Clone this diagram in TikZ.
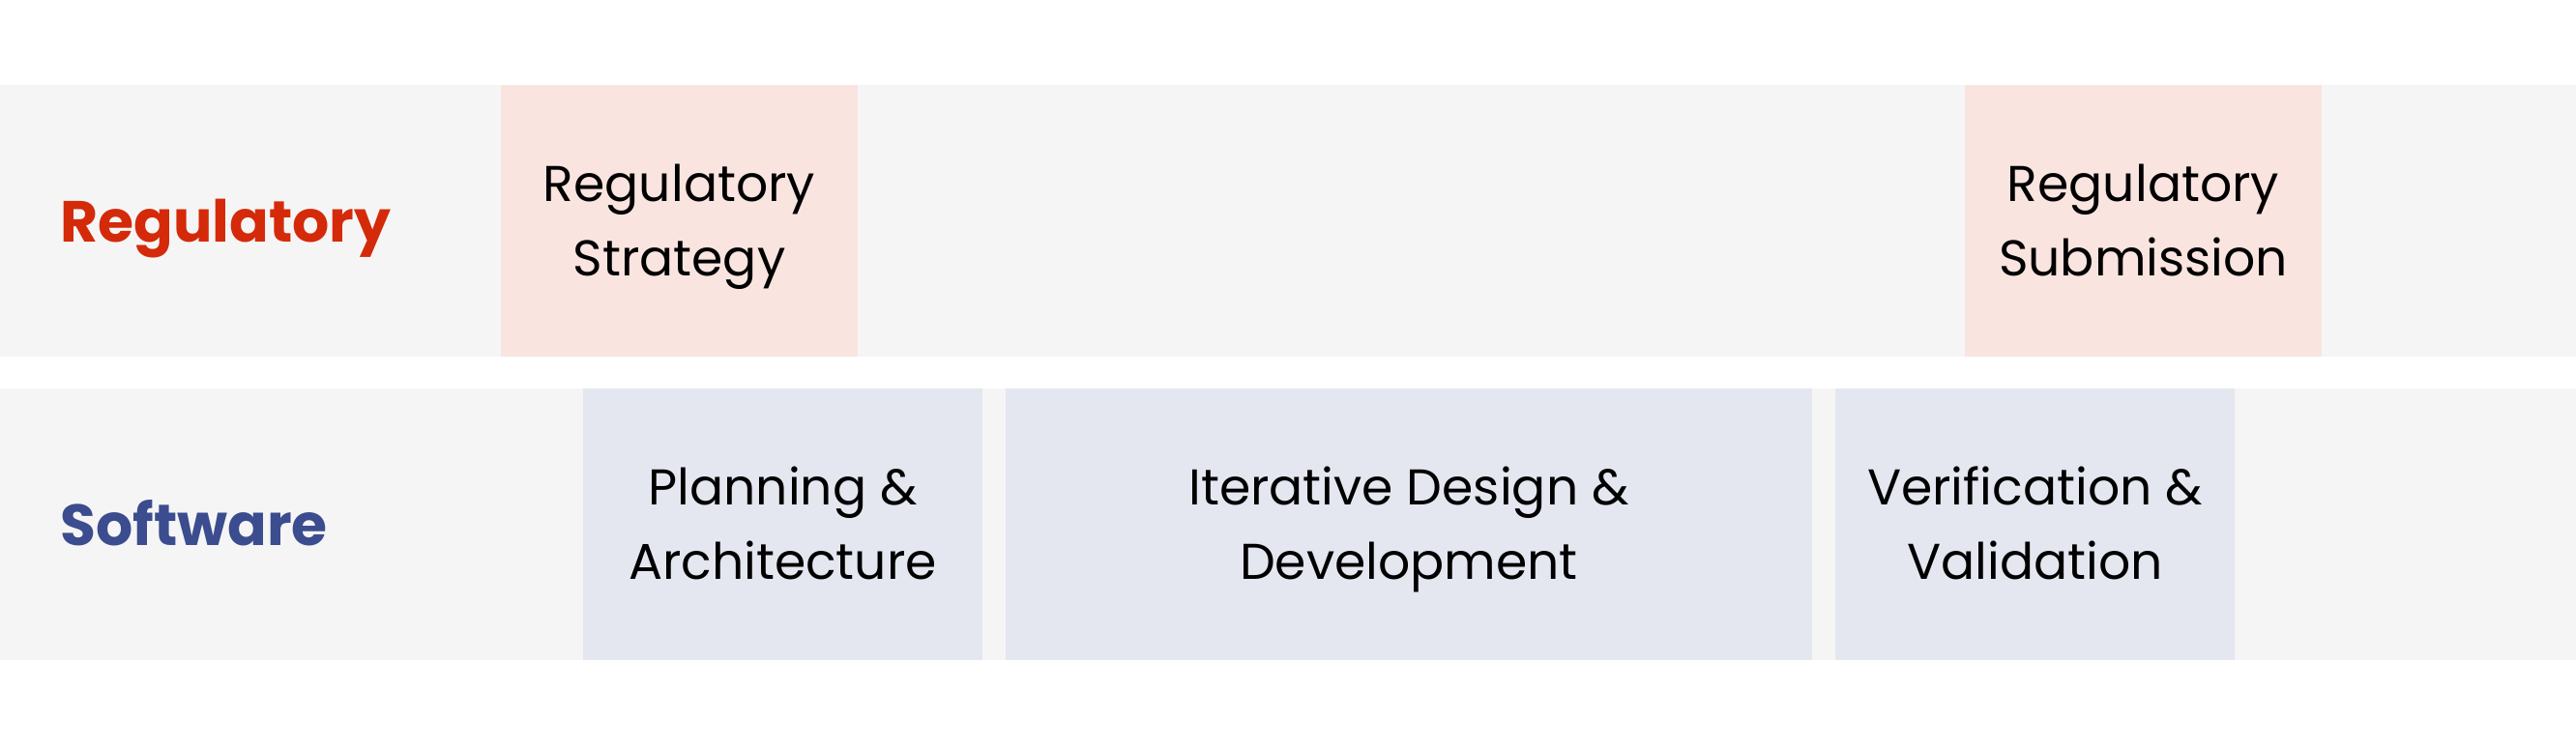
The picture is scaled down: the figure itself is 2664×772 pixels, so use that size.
\documentclass[tikz,border=0pt]{standalone}
\usepackage{fontspec}
\setmainfont{Poppins}
\definecolor{bandgray}{HTML}{F5F5F5}
\definecolor{regpink}{HTML}{F9E4E0}
\definecolor{swblue}{HTML}{E4E7F0}
\definecolor{regred}{HTML}{D42A0A}
\definecolor{swnavy}{HTML}{3B4C8F}
\begin{document}
\begin{tikzpicture}[x=0.5pt,y=-0.5pt,
  band/.style={fill=bandgray,draw=none},
  phase/.style={draw=none,inner sep=0pt,minimum height=140.5pt},
  regphase/.style={phase,fill=regpink},
  swphase/.style={phase,fill=swblue},
  phasetext/.style={anchor=base,inner sep=0pt,text=black,font=\fontsize{26}{36}\selectfont},
  lanelabel/.style={anchor=base west,inner sep=0pt,font=\fontsize{30}{36}\selectfont\bfseries}]
\useasboundingbox[fill=white] (0,0) rectangle (2664,772);
\fill[band] (0,88) rectangle (2664,369);
\fill[band] (0,402) rectangle (2664,683);
\node[lanelabel,text=regred] (lreg) at (62,250) {Regulatory};
\node[lanelabel,text=swnavy] (lsw) at (62,564) {Software};
% regulatory phases
\node[regphase,minimum width=184.5pt] (rs) at (702.5,228.5) {};
\node[phasetext] (rs1) at (702.5,208.5) {Regulatory};
\node[phasetext] (rs2) at (702.5,285.5) {Strategy};
\node[regphase,minimum width=184.5pt] (rsub) at (2216.5,228.5) {};
\node[phasetext] (rsub1) at (2216.5,208.5) {Regulatory};
\node[phasetext] (rsub2) at (2216.5,285.5) {Submission};
% software phases
\node[swphase,minimum width=206.5pt] (pa) at (809.5,542.5) {};
\node[phasetext] (pa1) at (809.5,522.5) {Planning \&};
\node[phasetext] (pa2) at (809.5,599.5) {Architecture};
\node[swphase,minimum width=417pt] (idd) at (1457,542.5) {};
\node[phasetext] (idd1) at (1457,522.5) {Iterative Design \&};
\node[phasetext] (idd2) at (1457,599.5) {Development};
\node[swphase,minimum width=206.5pt] (vv) at (2104.5,542.5) {};
\node[phasetext] (vv1) at (2104.5,522.5) {Verification \&};
\node[phasetext] (vv2) at (2104.5,599.5) {Validation};
\end{tikzpicture}
\end{document}
